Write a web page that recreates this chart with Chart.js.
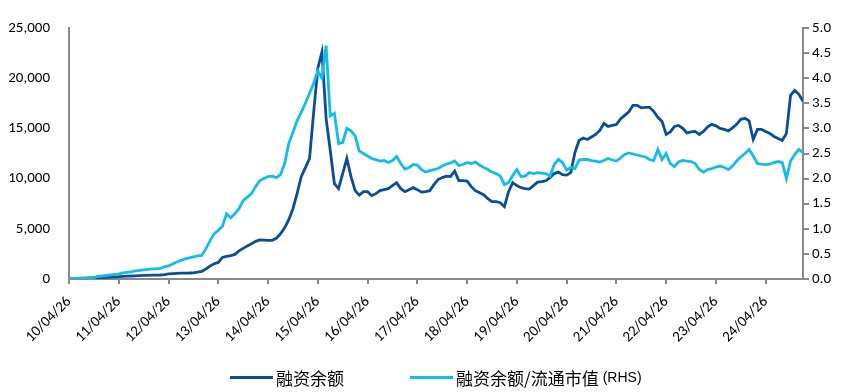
<!DOCTYPE html>
<html>
<head>
<meta charset="utf-8">
<script src="https://cdn.jsdelivr.net/npm/chart.js@4.4.1/dist/chart.umd.min.js"></script>
<style>
  html, body { margin: 0; padding: 0; background: #fff; }
  #wrap { position: relative; width: 847px; height: 392px; }
  #legend { position: absolute; left: 0; top: 364px; width: 847px; height: 26px;
            font-family: "Noto Sans CJK SC", sans-serif; font-size: 17px; color: #000; }
  .item { position: absolute; top: 0; display: flex; align-items: center; height: 26px; white-space: nowrap; }
  .swatch { width: 43px; height: 3px; margin-right: 3px; }
  .rhs { font-family: "Liberation Sans Narrow", "Liberation Sans", sans-serif; font-size: 14px; margin-left: 4px; }
</style>
</head>
<body>
<div id="wrap">
  <canvas id="c" width="847" height="392"></canvas>
  <div id="legend">
    <div class="item" style="left:230px"><span class="swatch" style="background:#0B4E96"></span><span>融资余额</span></div>
    <div class="item" style="left:410px"><span class="swatch" style="background:#14BDE8"></span><span>融资余额/流通市值</span><span class="rhs">(RHS)</span></div>
  </div>
</div>
<script>
// Monthly observations starting 2010-04 (index 0)
const tickLabels = ['10/04/26','11/04/26','12/04/26','13/04/26','14/04/26','15/04/26','16/04/26','17/04/26','18/04/26','19/04/26','20/04/26','21/04/26','22/04/26','23/04/26','24/04/26'];

// 融资余额 (left axis)
const marginBalance = [
  10,30,50,60,70,90,100,120,140,170,
  190,210,230,260,280,300,320,340,360,370,
  380,390,400,440,500,540,560,580,590,600,
  620,680,750,1000,1280,1520,1650,2150,2250,2330,
  2450,2800,3050,3300,3500,3750,3900,3880,3840,3850,
  4050,4500,5100,5900,7000,8500,10200,11100,12000,16600,
  21000,22600,16000,12800,9500,9000,10500,12000,10200,8800,
  8350,8700,8700,8300,8500,8800,8900,9000,9300,9600,
  9000,8700,8900,9100,8900,8650,8700,8800,9400,9900,
  10100,10250,10200,10750,9800,9800,9750,9200,8800,8600,
  8400,8000,7700,7700,7600,7200,8700,9600,9300,9100,
  9000,8950,9300,9650,9700,9780,10100,10500,10650,10400,
  10350,10600,12600,13800,14050,13900,14150,14400,14800,15500,
  15200,15300,15380,15950,16300,16650,17300,17300,17050,17100,
  17100,16700,16100,15700,14400,14650,15200,15300,15000,14550,
  14650,14700,14400,14700,15150,15400,15250,15000,14900,14750,
  15050,15400,15900,16000,15750,13900,14900,14900,14700,14500,
  14200,14000,13800,14500,18300,18800,18400,17700
];

// 融资余额/流通市值 (right axis)
const marginRatio = [
  0.00,0.01,0.01,0.02,0.02,0.03,0.03,0.05,0.06,0.07,
  0.08,0.09,0.10,0.12,0.13,0.14,0.16,0.17,0.18,0.19,
  0.20,0.20,0.21,0.24,0.26,0.30,0.34,0.37,0.40,0.42,
  0.44,0.46,0.47,0.60,0.76,0.90,0.97,1.05,1.30,1.22,
  1.30,1.40,1.56,1.63,1.70,1.84,1.96,2.00,2.04,2.05,
  2.02,2.08,2.30,2.70,2.92,3.15,3.32,3.50,3.70,3.90,
  4.15,4.00,4.65,3.25,3.30,2.70,2.72,3.00,2.95,2.85,
  2.55,2.50,2.45,2.40,2.38,2.35,2.36,2.32,2.36,2.44,
  2.30,2.19,2.22,2.28,2.27,2.18,2.13,2.16,2.18,2.20,
  2.25,2.29,2.31,2.35,2.26,2.28,2.32,2.30,2.33,2.27,
  2.22,2.18,2.13,2.10,2.05,1.88,1.92,2.06,2.18,2.04,
  2.05,2.12,2.10,2.12,2.11,2.10,2.05,2.28,2.38,2.32,
  2.17,2.22,2.20,2.37,2.38,2.38,2.36,2.35,2.33,2.36,
  2.40,2.37,2.35,2.41,2.48,2.51,2.49,2.47,2.45,2.43,
  2.38,2.36,2.58,2.38,2.50,2.30,2.24,2.33,2.36,2.35,
  2.34,2.30,2.18,2.13,2.18,2.20,2.23,2.25,2.22,2.18,
  2.25,2.35,2.43,2.50,2.58,2.45,2.30,2.29,2.28,2.29,
  2.32,2.34,2.32,2.00,2.35,2.48,2.58,2.52
];

const toPts = arr => arr.map((v, i) => ({ x: i, y: v }));
const axisColor = '#898989';
const tickFont = { family: 'Carlito, Lato, sans-serif', size: 15 };

new Chart(document.getElementById('c'), {
  type: 'line',
  data: {
    datasets: [
      { label: '融资余额/流通市值 (RHS)', data: toPts(marginRatio), yAxisID: 'y2',
        borderColor: '#14BDE8', backgroundColor: '#14BDE8', borderWidth: 2.8,
        pointRadius: 0, tension: 0 },
      { label: '融资余额', data: toPts(marginBalance), yAxisID: 'y',
        borderColor: '#0B4E96', backgroundColor: '#0B4E96', borderWidth: 2.8,
        pointRadius: 0, tension: 0 }
    ]
  },
  options: {
    responsive: false,
    animation: false,
    layout: { padding: { top: 26, left: 0, right: 0, bottom: 0 } },
    plugins: { legend: { display: false }, tooltip: { enabled: false } },
    scales: {
      x: {
        type: 'linear', min: 0, max: marginBalance.length - 1,
        border: { color: axisColor, width: 2 },
        grid: { drawOnChartArea: false, drawTicks: true, tickLength: 5, tickColor: axisColor, lineWidth: 2 },
        ticks: {
          stepSize: 12, includeBounds: false, autoSkip: false,
          maxRotation: 45, minRotation: 45, padding: 9,
          color: '#000', font: tickFont,
          callback: v => (v % 12 === 0 ? tickLabels[v / 12] : '')
        },
        afterFit: s => { s.height = 113; }
      },
      y: {
        position: 'left', min: 0, max: 25000,
        border: { color: axisColor, width: 2 },
        grid: { drawOnChartArea: false, drawTicks: false },
        ticks: { stepSize: 5000, padding: 19, color: '#000', font: tickFont,
          callback: v => v.toLocaleString('en-US') },
        afterFit: s => { s.width = 69; }
      },
      y2: {
        position: 'right', min: 0, max: 5,
        border: { color: axisColor, width: 2 },
        grid: { drawOnChartArea: false, drawTicks: true, tickLength: 6, tickColor: axisColor, lineWidth: 2 },
        ticks: { stepSize: 0.5, padding: 3, color: '#000', font: tickFont,
          callback: v => v.toFixed(1) },
        afterFit: s => { s.width = 44; }
      }
    }
  }
});
</script>
</body>
</html>
